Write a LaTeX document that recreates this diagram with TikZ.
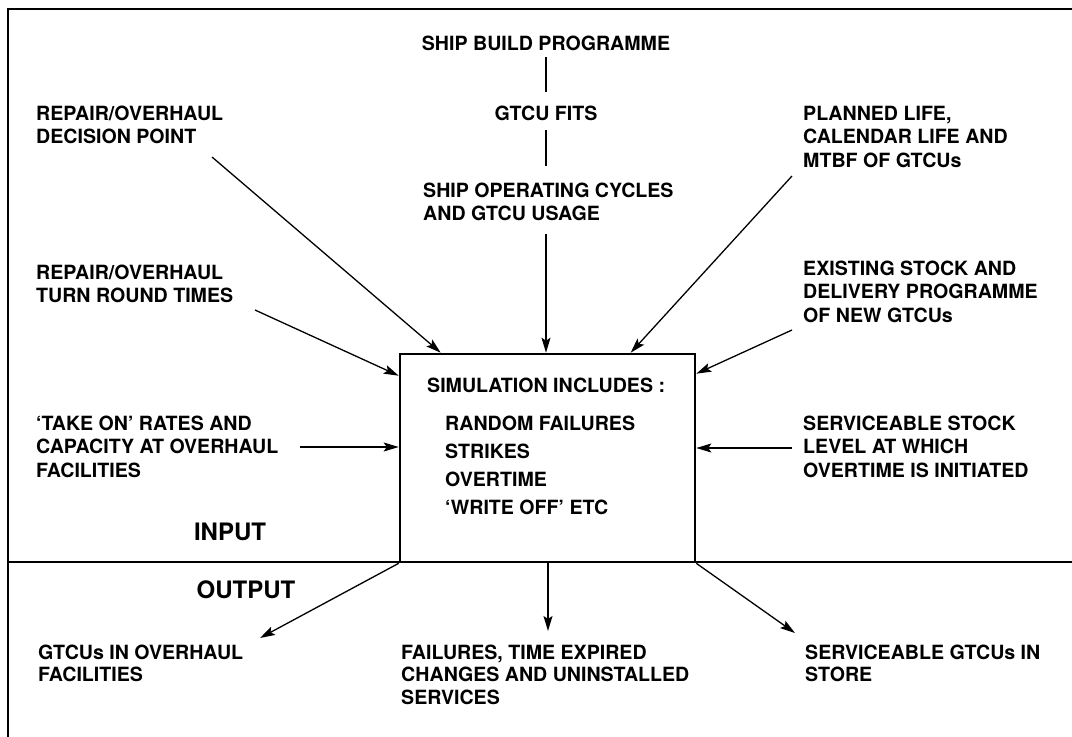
\documentclass[tikz,border=0pt]{standalone}
\usepackage{fontspec}
\setmainfont{TeX Gyre Heros}
\usetikzlibrary{arrows.meta,calc}
\begin{document}
\begin{tikzpicture}[x=1pt,y=-1pt,
  lbl/.style={font=\fontsize{19.6}{23.5}\selectfont\bfseries, inner sep=0pt, align=left, anchor=base west},
  ctr/.style={font=\fontsize{19.6}{23.5}\selectfont\bfseries, inner sep=0pt, anchor=base},
  big/.style={font=\fontsize{24}{28}\selectfont\bfseries, inner sep=0pt},
  conn/.style={line width=1.3pt},
  arr/.style={conn, -{Stealth[length=15pt,width=9pt,inset=3pt]}},
  frame/.style={line width=2.6pt}]
\useasboundingbox (0,0) rectangle (1072,737);
% frame
\draw[frame] (8,737) -- (8,9) -- (1072,9);
\draw[frame] (8,562) -- (1072,562);
% central box
\node[draw, line width=2.6pt, minimum width=295pt, minimum height=208pt, inner sep=0pt] (sim) at (547.5,458) {};
\node[lbl] (simt) at (427,392) {SIMULATION INCLUDES :};
\node[lbl, font=\fontsize{19.6}{28}\selectfont\bfseries] (siml) at (445,514) {RANDOM FAILURES\\STRIKES\\OVERTIME\\‘WRITE OFF’ ETC};
% top chain
\node[ctr] (sbp) at (546,50) {SHIP BUILD PROGRAMME};
\node[ctr] (fits) at (546,120) {GTCU FITS};
\node[lbl] (ops) at (423,220.5) {SHIP OPERATING CYCLES\\AND GTCU USAGE};
\draw[conn] ([yshift=-7pt]sbp.south) -- ([yshift=13pt]fits.north);
\draw[conn] ([yshift=-10pt]fits.south) -- ([yshift=16pt]fits.south |- ops.north);
\draw[arr] ([yshift=-13pt]fits.south |- ops.south) -- (fits.south |- sim.north);
% left inputs
\node[lbl] (dec) at (36,143.5) {REPAIR/OVERHAUL\\DECISION POINT};
\node[lbl] (trt) at (36,302.5) {REPAIR/OVERHAUL\\TURN ROUND TIMES};
\node[lbl] (take) at (36,477) {‘TAKE ON’ RATES AND\\CAPACITY AT OVERHAUL\\FACILITIES};
\coordinate (dec-e) at (212,157);
\coordinate (trt-e) at (255,310);
\coordinate (take-e) at (300,447);
\draw[arr] (dec-e) -- ($(sim.north west)+(42,0)$);
\draw[arr] (trt-e) -- ($(sim.north west)+(0,23)$);
\draw[arr] (take-e) -- (take-e -| sim.west);
% right inputs
\node[lbl] (plan) at (803,167) {PLANNED LIFE,\\CALENDAR LIFE AND\\MTBF OF GTCUs};
\node[lbl] (exist) at (803,322) {EXISTING STOCK AND\\DELIVERY PROGRAMME\\OF NEW GTCUs};
\node[lbl] (serv) at (803,477) {SERVICEABLE STOCK\\LEVEL AT WHICH\\OVERTIME IS INITIATED};
\coordinate (plan-e) at (792,176);
\coordinate (exist-e) at (792,330);
\coordinate (serv-e) at (792,448);
\draw[arr] (plan-e) -- ($(sim.north west)+(232,0)$);
\draw[arr] (exist-e) -- ($(sim.north east)+(0,21)$);
\draw[arr] (serv-e) -- (serv-e -| sim.east);
% input / output labels
\node[big] (inp) at (230,532) {INPUT};
\node[big] (outp) at (246,590) {OUTPUT};
% outputs
\node[lbl, font=\fontsize{19.6}{22.5}\selectfont\bfseries] (ovh) at (38,681.5) {GTCUs IN OVERHAUL\\FACILITIES};
\node[lbl, font=\fontsize{19.6}{22.5}\selectfont\bfseries] (fail) at (401,704) {FAILURES, TIME EXPIRED\\CHANGES AND UNINSTALLED\\SERVICES};
\node[lbl, font=\fontsize{19.6}{22.5}\selectfont\bfseries] (store) at (805,681.5) {SERVICEABLE GTCUs IN\\STORE};
\coordinate (ovh-e) at (260,638);
\coordinate (fail-e) at (548,631);
\coordinate (store-e) at (795,633);
\draw[arr] (sim.south west) -- (ovh-e);
\draw[arr] (fail-e |- sim.south) -- (fail-e);
\draw[arr] (sim.south east) -- (store-e);
\end{tikzpicture}
\end{document}
